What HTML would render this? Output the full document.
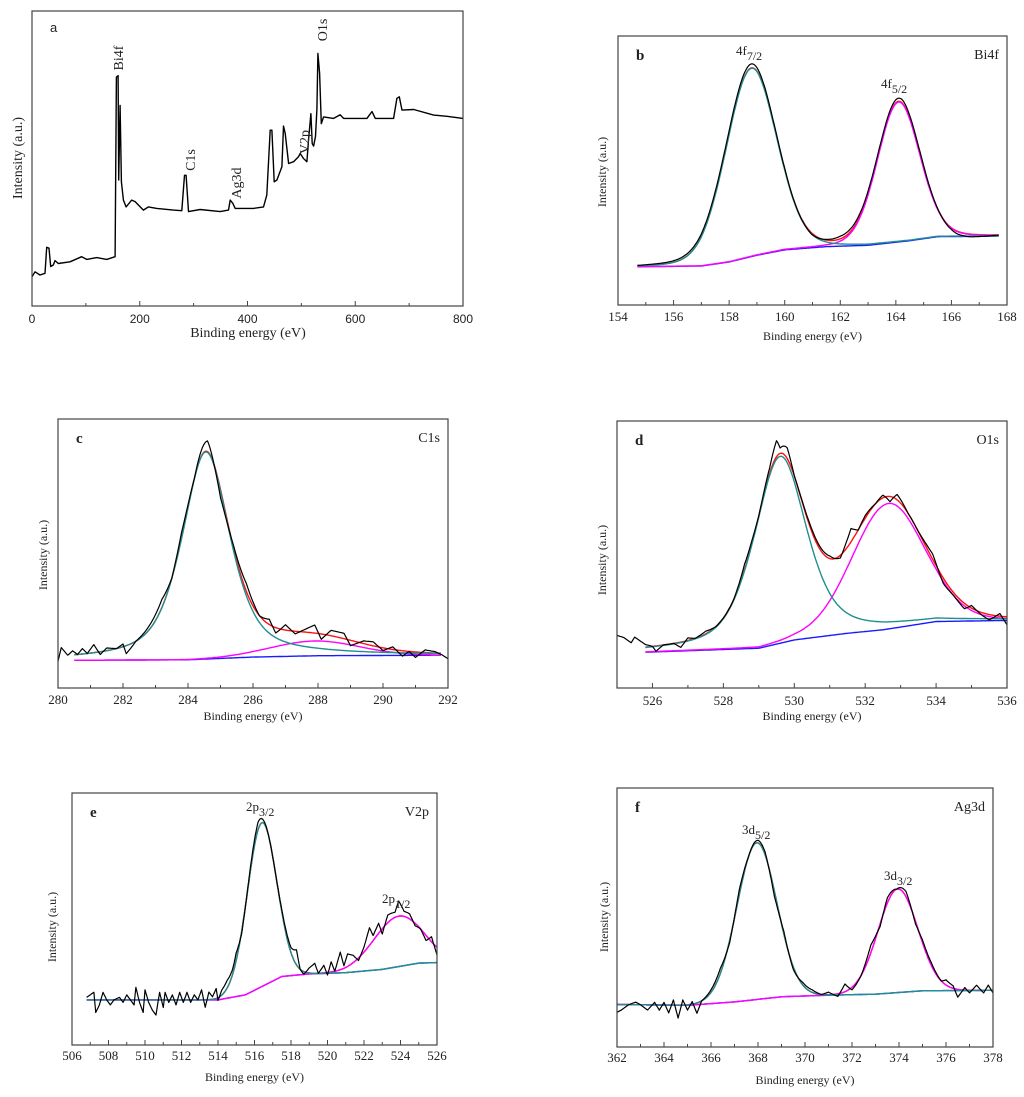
<!DOCTYPE html>
<html><head><meta charset="utf-8"><style>
html,body{margin:0;padding:0;background:#fff;}
svg{display:block;font-family:"Liberation Serif",serif;}
</style></head><body>
<svg id="fig" width="1024" height="1097" viewBox="0 0 1024 1097" xmlns="http://www.w3.org/2000/svg"></svg>
<script>
// ---- Panel a: survey ----
const aEnergy=[0,5.6,14.9,24.1,27.2,31.6,34.7,39.6,42.7,48.9,70.6,92.3,101.5,120.1,138.7,154.2,156.7,159.8,161.0,163.5,165.9,169.7,174.6,185.1,191.3,206.8,216.1,231.6,262.5,278.0,283.0,286.1,290.4,312.1,349.2,364.7,367.8,372.8,377.1,411.2,429.7,435.9,442.1,445.2,449.5,454.5,463.8,466.9,470.0,476.2,485.5,494.7,497.8,504.0,510.2,513.3,517.7,520.1,522.6,526.3,528.8,530.7,533.8,536.9,541.2,559.8,572.1,578.3,603.1,621.7,631.0,637.2,671.2,677.4,681.7,686.7,708.4,745.5,770.3,800];
const aIntensity=[0.099,0.116,0.105,0.111,0.199,0.196,0.134,0.139,0.154,0.144,0.150,0.167,0.158,0.164,0.158,0.167,0.776,0.781,0.427,0.680,0.421,0.359,0.336,0.359,0.354,0.325,0.336,0.331,0.325,0.323,0.443,0.443,0.320,0.327,0.320,0.325,0.359,0.348,0.331,0.331,0.336,0.376,0.596,0.596,0.421,0.427,0.472,0.610,0.585,0.483,0.489,0.506,0.517,0.500,0.489,0.562,0.652,0.551,0.542,0.575,0.666,0.856,0.789,0.618,0.641,0.636,0.648,0.636,0.636,0.636,0.659,0.636,0.636,0.704,0.709,0.664,0.666,0.647,0.643,0.636];
const aXTicks=[0,200,400,600,800];

// ---- Panel b: Bi4f ----
const bBgX=[154.7,157,158,159,160,161.5,163,164.5,165.5,167.7];
const bBgY=[0.142,0.145,0.16,0.185,0.205,0.217,0.222,0.239,0.254,0.256];
const bPeakCenter=[158.8,164.1];
const bPeakAmp=[0.70,0.52];
const bPeakFwhm=[2.15,1.8];
const bPeakEta=[0.1,0.1];
const bResX=[154.7,157,158.8,159.3,161,162,163.5,164.2,165,166.2,166.7,167.7];
const bResY=[0,0.01,0.015,0.01,-0.005,0.01,0.01,0.012,0.01,-0.01,-0.01,0];
const bXTicks=[154,156,158,160,162,164,166,168];

// ---- Panel c: C1s ----
const cBgX=[280.5,284,286,288,292];
const cBgY=[0.103,0.105,0.115,0.12,0.122];
const cPeakCenter=[284.55,287.9];
const cPeakAmp=[0.77,0.055];
const cPeakFwhm=[1.75,3.2];
const cPeakEta=[0.6,0];
const cResX=[280,280.1,280.3,280.45,280.6,280.75,280.9,281.1,281.3,281.5,281.8,282.0,282.1,282.4,282.7,283.2,283.5,283.8,284.2,284.6,284.8,285.0,285.4,285.8,286.2,286.5,286.7,287.0,287.3,287.6,287.9,288.1,288.4,288.8,289.0,289.4,289.7,290.0,290.3,290.6,290.8,291.0,291.3,291.6,291.8,292];
const cResY=[-0.02,0.03,0.0,0.015,0.0,0.02,0.0,0.03,-0.01,0.01,0.0,0.01,-0.03,0.0,0.01,0.03,0.0,0.02,0.0,0.04,0.0,-0.03,0.01,0.03,0.0,0.02,-0.02,0.02,-0.01,0.01,0.03,-0.02,0.02,0.02,-0.02,0.01,0.015,-0.01,0.01,-0.02,0.0,-0.02,0.01,0.005,-0.005,-0.02];
const cXTicks=[280,282,284,286,288,290,292];

// ---- Panel d: O1s ----
const dBgX=[525.8,529,530,531.5,532.5,534,536];
const dBgY=[0.134,0.149,0.18,0.205,0.218,0.249,0.253];
const dPeakCenter=[529.6,532.65];
const dPeakAmp=[0.70,0.47];
const dPeakFwhm=[1.75,2.4];
const dPeakEta=[0.5,0.1];
const dResX=[525.0,525.2,525.4,525.5,525.8,526.0,526.1,526.3,526.6,526.8,527.0,527.2,527.5,527.8,528.0,528.3,528.6,529.0,529.3,529.5,529.6,529.8,530.0,530.5,530.8,531.0,531.3,531.6,531.8,532.0,532.3,532.5,532.7,532.9,533.2,533.5,533.9,534.2,534.5,534.8,535.0,535.3,535.5,535.8,536.0];
const dResY=[0.05,0.04,0.02,0.04,0.01,0.0,-0.02,0.0,0.0,-0.02,0.01,0.0,0.01,0.0,0.0,0.0,0.02,0.0,0.02,0.06,0.02,0.04,0.0,0.01,0.01,0.01,-0.01,0.05,0.0,0.01,0.0,0.01,-0.02,0.02,0.0,0.0,0.02,-0.02,-0.01,-0.02,0.01,-0.01,-0.02,0.01,-0.03];
const dXTicks=[526,528,530,532,534,536];

// ---- Panel e: V2p ----
const eBgX=[506.8,514,515.5,517.5,519,521,523,525,526];
const eBgY=[0.179,0.179,0.199,0.272,0.282,0.287,0.30,0.325,0.327];
const ePeakCenter=[516.4,523.9];
const ePeakAmp=[0.65,0.2];
const ePeakFwhm=[1.9,3.2];
const ePeakEta=[0,0];
const eResX=[506.8,507.0,507.2,507.3,507.5,507.7,507.9,508.1,508.3,508.6,508.8,509.0,509.2,509.4,509.5,509.7,509.9,510.0,510.2,510.4,510.6,510.8,511.0,511.1,511.3,511.5,511.7,511.9,512.1,512.3,512.5,512.7,512.9,513.1,513.3,513.5,513.7,513.9,514.0,514.2,514.5,514.8,515.0,515.3,515.7,516.2,516.5,516.8,517.2,517.6,518.0,518.3,518.5,518.7,519.0,519.3,519.5,519.8,520.0,520.2,520.4,520.7,520.9,521.1,521.4,521.7,522.0,522.3,522.5,522.8,523.0,523.3,523.7,523.9,524.2,524.5,524.8,525.1,525.4,525.7,526.0];
const eResY=[0.01,0.02,0.03,-0.05,-0.02,0.03,0.0,-0.02,0.0,0.01,-0.01,0.02,0.0,-0.02,0.05,-0.01,-0.05,0.04,-0.01,-0.04,-0.06,0.03,-0.03,0.03,-0.01,0.02,-0.02,0.03,-0.01,0.03,-0.01,0.02,0.0,0.04,-0.03,0.03,0.01,0.04,-0.01,0.02,0.03,0.02,0.03,-0.01,0.01,0.03,0.01,0.0,0.0,0.01,0.02,0.06,0.0,-0.01,0.02,0.04,0.0,0.03,-0.01,0.04,0.0,0.07,0.01,0.05,0.03,-0.01,0.02,0.07,0.02,0.04,-0.02,0.03,0.02,0.06,0.02,0.02,-0.01,0.0,-0.02,0.02,-0.03];
const eXTicks=[506,508,510,512,514,516,518,520,522,524,526];

// ---- Panel f: Ag3d ----
const fBgX=[362,365,367,369,371,373,375,378];
const fBgY=[0.164,0.161,0.174,0.194,0.2,0.204,0.217,0.219];
const fPeakCenter=[367.95,373.95];
const fPeakAmp=[0.605,0.4];
const fPeakFwhm=[2.0,2.0];
const fPeakEta=[0,0];
const fResX=[362,362.2,362.5,362.8,363.0,363.3,363.6,363.8,364.0,364.2,364.4,364.6,364.8,365.0,365.2,365.4,365.6,366.0,366.4,366.8,367.2,367.6,368.0,368.3,368.7,369.1,369.5,369.9,370.3,370.7,371.0,371.4,371.7,372.0,372.4,372.8,373.2,373.5,373.9,374.3,374.7,375.0,375.4,375.8,376.0,376.3,376.5,376.8,377.0,377.3,377.6,377.8,378.0];
const fResY=[-0.03,-0.02,0.0,0.01,0.0,-0.02,0.01,-0.02,0.01,-0.03,0.02,-0.05,0.02,-0.02,0.01,-0.04,0.0,0.01,0.02,-0.01,0.02,0.0,0.01,0.01,-0.02,0.01,-0.01,0.01,0.01,0.0,0.01,-0.01,0.03,-0.01,0.0,0.03,-0.01,0.02,0.0,0.02,-0.01,0.01,0.01,0.0,0.02,0.01,-0.03,0.01,-0.01,0.02,-0.01,0.02,-0.01];
const fXTicks=[362,364,366,368,370,372,374,376,378];

const NS="http://www.w3.org/2000/svg";
const svg=document.getElementById('fig');
function mk(tag,attrs,parent){const e=document.createElementNS(NS,tag);for(const k in attrs)e.setAttribute(k,attrs[k]);(parent||svg).appendChild(e);return e;}
function interp(xs,ys,x){if(x<=xs[0])return ys[0];if(x>=xs[xs.length-1])return ys[ys.length-1];for(let i=1;i<xs.length;i++){if(x<=xs[i]){const t=(x-xs[i-1])/(xs[i]-xs[i-1]);return ys[i-1]+t*(ys[i]-ys[i-1]);}}return ys[ys.length-1];}
function pv(x,c,a,w,eta){const d=(x-c)/w;const g=Math.exp(-4*Math.LN2*d*d);const l=1/(1+4*d*d);return a*(eta*l+(1-eta)*g);}

function frame(g,P,name){
  const r=mk('rect',{x:P.l,y:P.t,width:P.r-P.l,height:P.b-P.t,fill:'none',stroke:'#444','stroke-width':1.2},g);
  
  
}
function axisX(g,P,ticks,minorStep,name,labelY,fontFam,fs){
  const sx=v=>P.l+(v-P.x0)/(P.x1-P.x0)*(P.r-P.l);
  const ax=mk('g',{},g);
  
  
  for(let v=P.x0;v<=P.x1+1e-9;v+=minorStep){
    const isMajor=ticks.some(t=>Math.abs(t-v)<1e-6);
    const tk=mk('line',{x1:sx(v),x2:sx(v),y1:P.b,y2:P.b-(isMajor?5:3),stroke:'#444','stroke-width':1},ax);
    
    
  }
  ticks.forEach(t=>{
    const tx=mk('text',{x:sx(t),y:labelY,'text-anchor':'middle','font-size':fs,fill:'#222','font-family':fontFam},ax);
    tx.textContent=String(t);
    
    
  });
}
function text(g,x,y,s,fs,opts,name){
  const t=mk('text',Object.assign({x:x,y:y,'font-size':fs,fill:'#222'},opts||{}),g);
  t.innerHTML=s;
  
  
  return t;
}
function poly(g,pts,color,w,name){
  const p=mk('polyline',{points:pts.map(q=>q[0].toFixed(1)+','+q[1].toFixed(1)).join(' '),fill:'none',stroke:color,'stroke-width':w,'stroke-linejoin':'round'},g);
  
  
}

function fitPanel(id,P,bgX,bgY,pc,pa,pw,pe,resX,resY,ticks,fitMin,fitMax,rawMin,rawMax){
  const g=mk('g',{});
  
  
  const sx=v=>P.l+(v-P.x0)/(P.x1-P.x0)*(P.r-P.l);
  const sy=v=>P.b-v*(P.b-P.t);
  const step=0.04;
  const bg=[],c1=[],c2=[],env=[],raw=[];
  for(let x=fitMin;x<=fitMax+1e-9;x+=step){
    const b=interp(bgX,bgY,x);
    const p1=pv(x,pc[0],pa[0],pw[0],pe[0]);
    const p2=pv(x,pc[1],pa[1],pw[1],pe[1]);
    bg.push([sx(x),sy(b)]);c1.push([sx(x),sy(b+p1)]);c2.push([sx(x),sy(b+p2)]);env.push([sx(x),sy(b+p1+p2)]);
  }
  const xs=[];
  for(let x=rawMin;x<=rawMax+1e-9;x+=step)xs.push(x);
  resX.forEach(x=>{if(x>=rawMin&&x<=rawMax)xs.push(x);});
  xs.sort((a,b)=>a-b);
  xs.forEach(x=>{
    const b=interp(bgX,bgY,x);
    const v=b+pv(x,pc[0],pa[0],pw[0],pe[0])+pv(x,pc[1],pa[1],pw[1],pe[1])+interp(resX,resY,x);
    raw.push([sx(x),sy(v)]);
  });
  poly(g,env,'#ff1010',1.4,'envelope-fit-line');
  poly(g,bg,'#1a1aff',1.4,'background-line');
  poly(g,c2,'#ff00ff',1.4,'peak2-component-line');
  poly(g,c1,'#1f8f8f',1.4,'peak1-component-line');
  poly(g,raw,'#000',1.2,'raw-spectrum-line');
  frame(g,P,'panel-'+id);
  return g;
}

// Panel a
(function(){
  const P={l:32,t:11,r:463,b:306,x0:0,x1:800};
  const g=mk('g',{});
  
  
  const sx=v=>P.l+(v-P.x0)/(P.x1-P.x0)*(P.r-P.l);
  const sy=v=>P.b-v*(P.b-P.t);
  poly(g,aEnergy.map((e,i)=>[sx(e),sy(aIntensity[i])]),'#000',1.4,'survey-spectrum-line');
  frame(g,P,'panel-a');
  axisX(g,P,aXTicks,100,'panel-a',323,'"Liberation Sans",sans-serif',12);
  text(g,248,337,'Binding energy (eV)',14,{'text-anchor':'middle'},'x-axis-title');
  text(g,22,158,'Intensity (a.u.)',14,{'text-anchor':'middle',transform:'rotate(-90 22 158)'},'y-axis-title');
  text(g,50,32,'a',13,{'font-family':'"Liberation Sans",sans-serif'},'panel-label');
  [['Bi4f',118,58],['C1s',190,160],['Ag3d',236,183],['V2p',304,142],['O1s',322,30]].forEach(q=>{
    text(g,q[1]+5,q[2],q[0],14,{'text-anchor':'middle',transform:'rotate(-90 '+(q[1]+5)+' '+q[2]+')'},'peak-annotation');
  });
})();

function decorate(g,P,ticks,minor,id,tickY,titleY,yLabX,yLabY,letter,elem){
  axisX(g,P,ticks,minor,'panel-'+id,tickY,'"Liberation Serif",serif',13);
  text(g,(P.l+P.r)/2,titleY,'Binding energy (eV)',12,{'text-anchor':'middle'},'x-axis-title');
  text(g,yLabX,yLabY,'Intensity (a.u.)',12,{'text-anchor':'middle',transform:'rotate(-90 '+yLabX+' '+yLabY+')'},'y-axis-title');
  text(g,P.l+18,P.t+24,letter,15,{'font-weight':'bold'},'panel-label');
  text(g,P.r-8,P.t+23,elem,14,{'text-anchor':'end'},'element-label');
}
function orbital(g,x,y,main,sub){
  text(g,x,y,main+'<tspan dy="5" font-size="12">'+sub+'</tspan>',13,{},'peak-annotation');
}

let P,g;
P={l:618,t:36,r:1007,b:305,x0:154,x1:168};
g=fitPanel('b',P,bBgX,bBgY,bPeakCenter,bPeakAmp,bPeakFwhm,bPeakEta,bResX,bResY,bXTicks,154.7,167.7,154.7,167.7);
decorate(g,P,bXTicks,1,'b',321,340,606,172,'b','Bi4f');
orbital(g,736,55,'4f','7/2');orbital(g,881,88,'4f','5/2');

P={l:58,t:419,r:448,b:688,x0:280,x1:292};
g=fitPanel('c',P,cBgX,cBgY,cPeakCenter,cPeakAmp,cPeakFwhm,cPeakEta,cResX,cResY,cXTicks,280.5,291.8,280,292);
decorate(g,P,cXTicks,1,'c',704,720,47,555,'c','C1s');

P={l:617,t:421,r:1007,b:688,x0:525,x1:536};
g=fitPanel('d',P,dBgX,dBgY,dPeakCenter,dPeakAmp,dPeakFwhm,dPeakEta,dResX,dResY,dXTicks,525.8,536,525,536);
decorate(g,P,dXTicks,1,'d',705,720,606,560,'d','O1s');

P={l:72,t:793,r:437,b:1045,x0:506,x1:526};
g=fitPanel('e',P,eBgX,eBgY,ePeakCenter,ePeakAmp,ePeakFwhm,ePeakEta,eResX,eResY,eXTicks,506.8,526,506.8,526);
decorate(g,P,eXTicks,1,'e',1060,1081,56,927,'e','V2p');
orbital(g,246,811,'2p','3/2');orbital(g,382,903,'2p','1/2');

P={l:617,t:788,r:993,b:1047,x0:362,x1:378};
g=fitPanel('f',P,fBgX,fBgY,fPeakCenter,fPeakAmp,fPeakFwhm,fPeakEta,fResX,fResY,fXTicks,362,378,362,378);
decorate(g,P,fXTicks,1,'f',1062,1084,608,917,'f','Ag3d');
orbital(g,742,834,'3d','5/2');orbital(g,884,880,'3d','3/2');
</script>
</body></html>
